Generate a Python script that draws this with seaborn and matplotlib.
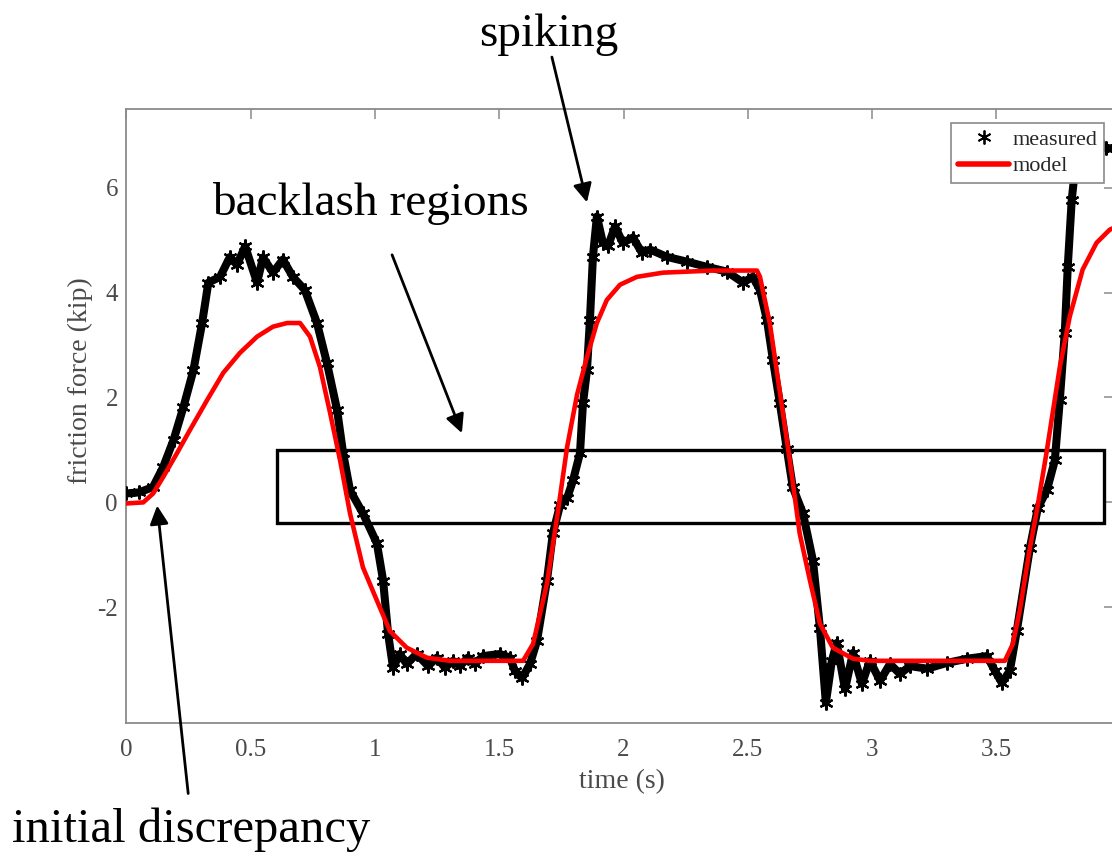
import matplotlib
matplotlib.use("Agg")
import matplotlib.pyplot as plt
import seaborn as sns
from matplotlib.lines import Line2D
from matplotlib.patches import Rectangle

# ---------------- data ----------------
meas_t = [0.0, 0.05, 0.107, 0.148, 0.19, 0.23, 0.27, 0.305, 0.33, 0.377, 0.417,
          0.445, 0.478, 0.526, 0.55, 0.59, 0.63, 0.67, 0.718, 0.767, 0.807, 0.848,
          0.872, 0.90, 0.952, 1.008, 1.033, 1.053, 1.073, 1.10, 1.128, 1.168, 1.214,
          1.249, 1.282, 1.314, 1.342, 1.374, 1.402, 1.435, 1.503, 1.543, 1.563, 1.592,
          1.624, 1.652, 1.692, 1.716, 1.745, 1.773, 1.797, 1.825, 1.837, 1.853, 1.865,
          1.877, 1.893, 1.917, 1.937, 1.966, 1.997, 2.038, 2.074, 2.107, 2.175, 2.255,
          2.336, 2.416, 2.481, 2.52, 2.549, 2.577, 2.601, 2.629, 2.657, 2.681, 2.722,
          2.762, 2.79, 2.814, 2.838, 2.858, 2.891, 2.923, 2.959, 2.991, 3.032, 3.072,
          3.112, 3.152, 3.221, 3.301, 3.382, 3.462, 3.494, 3.522, 3.554, 3.582, 3.635,
          3.667, 3.703, 3.735, 3.755, 3.775, 3.787, 3.803, 3.815, 3.84, 3.88, 3.94, 3.97]
meas_f = [0.17, 0.19, 0.29, 0.67, 1.19, 1.82, 2.52, 3.42, 4.19, 4.30, 4.68,
          4.53, 4.88, 4.19, 4.67, 4.38, 4.63, 4.30, 4.05, 3.42, 2.66, 1.76,
          0.94, 0.23, -0.21, -0.78, -1.49, -2.50, -3.15, -2.89, -3.08, -2.89, -3.12,
          -2.96, -3.15, -3.02, -3.12, -2.96, -3.08, -2.93, -2.89, -2.96, -3.21, -3.35,
          -3.08, -2.64, -1.49, -0.59, -0.05, 0.08, 0.42, 0.94, 1.89, 2.52, 3.48,
          4.68, 5.45, 4.95, 4.88, 5.26, 4.95, 5.05, 4.76, 4.82, 4.68, 4.59,
          4.49, 4.40, 4.19, 4.30, 4.05, 3.48, 2.72, 1.89, 1.02, 0.29, -0.21,
          -1.11, -2.39, -3.82, -3.02, -2.68, -3.56, -2.87, -3.46, -3.02, -3.40, -3.08,
          -3.27, -3.12, -3.17, -3.06, -2.98, -2.93, -3.21, -3.44, -3.21, -2.45, -0.86,
          -0.10, 0.23, 0.80, 1.95, 3.23, 4.49, 5.77, 6.30, 6.90, 7.10, 6.75, 6.75]

model_t = [0.0, 0.068, 0.108, 0.148, 0.204, 0.256, 0.325, 0.39, 0.457, 0.526, 0.59,
           0.647, 0.699, 0.739, 0.779, 0.82, 0.86, 0.90, 0.952, 1.008, 1.06, 1.128,
           1.209, 1.302, 1.596, 1.636, 1.692, 1.733, 1.773, 1.813, 1.853, 1.893, 1.933,
           1.986, 2.054, 2.159, 2.36, 2.537, 2.549, 2.589, 2.629, 2.669, 2.709, 2.75,
           2.79, 2.842, 2.923, 2.991, 3.534, 3.566, 3.594, 3.635, 3.663, 3.703, 3.755,
           3.795, 3.847, 3.903, 3.956, 3.98]
model_f = [-0.02, 0.0, 0.17, 0.48, 0.94, 1.38, 1.95, 2.47, 2.85, 3.16, 3.35,
           3.42, 3.42, 3.16, 2.58, 1.70, 0.80, -0.21, -1.24, -1.87, -2.45, -2.77,
           -2.96, -3.02, -3.02, -2.70, -1.55, -0.28, 1.05, 2.05, 2.77, 3.42, 3.86,
           4.15, 4.30, 4.38, 4.42, 4.42, 4.30, 3.40, 2.10, 0.80, -0.60, -1.49,
           -2.31, -2.77, -2.98, -3.02, -3.02, -2.70, -2.06, -0.86, -0.15, 0.99, 2.58,
           3.54, 4.44, 4.95, 5.20, 5.25]

xticks = [0, 0.5, 1, 1.5, 2, 2.5, 3, 3.5]
xtick_labels = ["0", "0.5", "1", "1.5", "2", "2.5", "3", "3.5"]
yticks = [-2, 0, 2, 4, 6]
ytick_labels = ["-2", "0", "2", "4", "6"]

# backlash region box (data units)
box_t = [0.606, 3.933]
box_f = [-0.40, 0.99]

# ---------------- figure ----------------
sns.set_theme(style="white")
plt.rcParams["font.family"] = ["Liberation Serif", "DejaVu Serif"]

W, H = 1112, 857
fig = plt.figure(figsize=(W / 100, H / 100), dpi=100)
ax_l, ax_r, ax_b, ax_t = 126.3, 1114.0, 722.7, 109.0
ax = fig.add_axes([ax_l / W, (H - ax_b) / H, (ax_r - ax_l) / W, (ax_b - ax_t) / H])

asterisk = (6, 2, 0)
sns.lineplot(x=meas_t, y=meas_f, ax=ax, color="black", linewidth=5.8,
             marker=asterisk, markersize=10, markeredgewidth=1.6,
             markeredgecolor="black", sort=False, estimator=None, zorder=3)
ax.add_patch(Rectangle((box_t[0], box_f[0]), box_t[1] - box_t[0], box_f[1] - box_f[0],
                       fill=False, edgecolor="black", linewidth=2.4, zorder=3.5))
sns.lineplot(x=model_t, y=model_f, ax=ax, color="#ff0000", linewidth=3.3,
             sort=False, estimator=None, zorder=4)

ax.set_xlim(0, (ax_r - ax_l) / 248.6)
ax.set_ylim(-4.2, 7.5)
ax.set_xticks(xticks)
ax.set_xticklabels(xtick_labels)
ax.set_yticks(yticks)
ax.set_yticklabels(ytick_labels)

gray = "#8a8a8a"
for s in ax.spines.values():
    s.set_color(gray)
    s.set_linewidth(1.3)
ax.tick_params(direction="in", length=7, width=1.1, color=gray, labelcolor="#4a4a4a",
               top=True, right=True, labelsize=18)
ax.tick_params(axis="x", pad=12)
ax.tick_params(axis="y", pad=6)

ax.set_xlabel("time (s)", fontsize=20, color="#4a4a4a")
ax.set_ylabel("friction force (kip)", fontsize=20, color="#4a4a4a")
ax.xaxis.set_label_coords(0.502, -0.076)
ax.yaxis.set_label_coords(-0.034, 0.557)

handles = [Line2D([], [], marker=asterisk, color="black", linestyle="none",
                  markersize=10, markeredgewidth=1.3),
           Line2D([], [], color="#ff0000", linewidth=4)]
leg = ax.legend(handles, ["measured", "model"], loc="upper right",
                bbox_to_anchor=(1104 / W, (H - 123) / H), bbox_transform=fig.transFigure,
                borderaxespad=0, fancybox=False, framealpha=1, edgecolor=gray,
                fontsize=16, handlelength=2.3, handletextpad=0.15, borderpad=0.3,
                labelspacing=0.25)
leg.get_frame().set_linewidth(1.2)
leg.set_zorder(10)

arrow = dict(arrowstyle="-|>", color="black", lw=2.0, mutation_scale=28,
             shrinkA=0, shrinkB=0)
ax.annotate("", xy=(1.350, 1.32), xytext=(1.069, 4.72), arrowprops=arrow,
            annotation_clip=False, zorder=6)
ax.annotate("", xy=(1.853, 5.72), xytext=(1.712, 8.49), arrowprops=arrow,
            annotation_clip=False, zorder=6)
ax.annotate("", xy=(0.124, -0.06), xytext=(0.249, -5.55), arrowprops=arrow,
            annotation_clip=False, zorder=6)

ax.text(0.981, 5.70, "backlash regions", fontsize=34, ha="center", va="center",
        color="black", clip_on=False)
ax.text(1.701, 8.92, "spiking", fontsize=34, ha="center", va="center",
        color="black", clip_on=False)
ax.text(0.262, -6.24, "initial discrepancy", fontsize=35, ha="center", va="center",
        color="black", clip_on=False)

fig.savefig("out.png", dpi=100, facecolor="white")
